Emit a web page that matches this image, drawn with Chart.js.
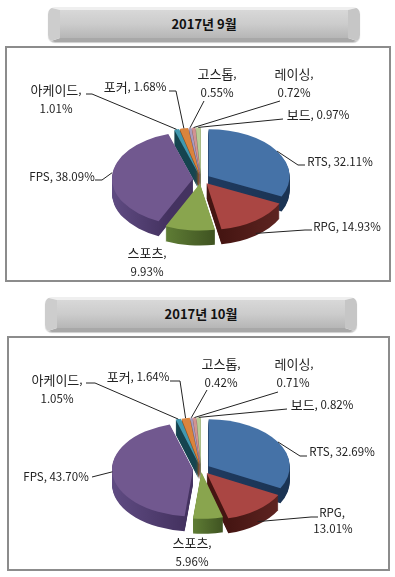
<!DOCTYPE html>
<html>
<head>
<meta charset="utf-8">
<script src="https://cdn.jsdelivr.net/npm/chart.js@4"></script>
<style>
  html, body { margin: 0; padding: 0; background: #fff; }
  body { position: relative; width: 395px; height: 577px; overflow: hidden; font-family: "Noto Sans CJK KR", sans-serif; }
  .head {
    position: absolute; width: 312px; height: 35px; box-sizing: border-box;
    border-style: solid; border-width: 3px 12px 4px 12px;
    border-color: #efefef #c6c6c6 #a8a8a8 #cdcdcd;
    border-radius: 7px; text-align: center; line-height: 28px;
    font-size: 13px; font-weight: bold; color: #111;
    background: linear-gradient(to bottom, #d8d8d8 0%, #cccccc 50%, #b6b6b6 100%);
    box-shadow: 0 1px 1px #ccc;
  }
  .panel { position: absolute; box-sizing: border-box; border: 2px solid #8c8c8c; background: #fff; }
  .panel canvas { position: absolute; left: 0; top: 0; }
</style>
</head>
<body>
<div class="head" style="left:48px;top:7px">2017년 9월</div>
<div class="panel" style="left:5px;top:46px;width:386px;height:236px"><canvas id="sep"></canvas></div>
<div class="head" style="left:45px;top:297px">2017년 10월</div>
<div class="panel" style="left:7px;top:336px;width:383px;height:235px"><canvas id="oct"></canvas></div>
<script>
const categories = ["RTS", "RPG", "스포츠", "FPS", "아케이드", "포커", "고스톱", "레이싱", "보드"];
const sepValues = [32.11, 14.93, 9.93, 38.09, 1.01, 1.68, 0.55, 0.72, 0.97];
const octValues = [32.69, 13.01, 5.96, 43.70, 1.05, 1.64, 0.42, 0.71, 0.82];
const topColors = ["#4572a7", "#aa4643", "#89a54e", "#71588f", "#4198af", "#db843d", "#a99bbd", "#d19392", "#b9cd96"];
const wallLeft = ["#1f3a5f", "#451512", "#5f7d35", "#5f4b82", "#15444f", "#8a4f20", "#6a5f7c", "#855a59", "#76835d"];
const wallRight = ["#1b3454", "#5e2421", "#3f5321", "#443260", "#15444f", "#8a4f20", "#6a5f7c", "#855a59", "#76835d"];
const sepExplode = [9, 9, 8, 8, 8, 8, 8, 8, 8];
const octExplode = [9, 9, 5, 8, 8, 8, 8, 8, 8];

// label text spots and leader start/bend, in canvas pixels; the leader's far end comes from the arc
const sepLabels = [
  { lines: ["RTS, 32.11%"], at: [[333, 114]], from: [298, 117], bend: [291, 117], drop: 0 },
  { lines: ["RPG, 14.93%"], at: [[340, 179]], from: [305, 182], bend: [298, 182], drop: 13 },
  { lines: ["스포츠,", "9.93%"], at: [[140, 205], [140, 224]] },
  { lines: ["FPS, 38.09%"], at: [[55, 129]], from: [88, 132], bend: [95, 132], drop: -3 },
  { lines: ["아케이드,", "1.01%"], at: [[49, 42], [49, 61]], from: [79, 46], bend: [85, 46], drop: 0 },
  { lines: ["포커, 1.68%"], at: [[128, 39]], from: [162, 43], bend: [169, 43], drop: 0 },
  { lines: ["고스톱,", "0.55%"], at: [[210, 26], [210, 45]], from: [197, 53], drop: 0 },
  { lines: ["레이싱,", "0.72%"], at: [[287, 26], [287, 45]], from: [273, 53], drop: 0 },
  { lines: ["보드, 0.97%"], at: [[311, 67]], from: [276, 71], drop: 0 }
];
const octLabels = [
  { lines: ["RTS, 32.69%"], at: [[333, 114]], from: [298, 118], bend: [291, 118], drop: 0 },
  { lines: ["RPG,", "13.01%"], at: [[323, 175], [324, 191]], from: [309, 179], bend: [302, 179], drop: 12 },
  { lines: ["스포츠,", "5.96%"], at: [[183, 205], [183, 224]] },
  { lines: ["FPS, 43.70%"], at: [[47, 139]], from: [83, 139], drop: -2 },
  { lines: ["아케이드,", "1.05%"], at: [[48, 42], [48, 61]], from: [77, 45], bend: [86, 45], drop: 0 },
  { lines: ["포커, 1.64%"], at: [[129, 39]], from: [161, 43], bend: [171, 43], drop: 0 },
  { lines: ["고스톱,", "0.42%"], at: [[212, 26], [212, 45]], from: [198, 52], drop: 0 },
  { lines: ["레이싱,", "0.71%"], at: [[285, 26], [284, 45]], from: [269, 54], drop: 0 },
  { lines: ["보드, 0.82%"], at: [[313, 67]], from: [278, 71], drop: 0 }
];

const squash = 0.58;
const depth = 15;

function midAngle(arc) {
  return (arc.startAngle + arc.endAngle) / 2;
}

// shift every slice outward along its own middle angle, then let the library draw it
function drawExploded(ctx, arc, push) {
  const mid = midAngle(arc);
  ctx.save();
  ctx.translate(Math.cos(mid) * push, Math.sin(mid) * push);
  arc.draw(ctx);
  ctx.restore();
}

function wallPaint(ctx, arc, i) {
  const xs = [arc.startAngle, midAngle(arc), arc.endAngle].map(a => arc.x + Math.cos(a) * arc.outerRadius);
  const g = ctx.createLinearGradient(Math.min(...xs), 0, Math.max(...xs), 0);
  g.addColorStop(0, wallLeft[i]);
  g.addColorStop(1, wallRight[i]);
  return g;
}

// hangul runs a little larger than the latin, as in the picture
function drawLine(ctx, text, x, y) {
  const runs = text.match(/[가-힣]+|[^가-힣]+/g);
  const fontOf = r => (/[가-힣]/.test(r) ? "13px" : "11.5px") + " 'Noto Sans CJK KR'";
  let w = 0;
  runs.forEach(r => { ctx.font = fontOf(r); w += ctx.measureText(r).width; });
  let px = x - w / 2;
  runs.forEach(r => {
    ctx.font = fontOf(r);
    ctx.fillText(r, px, y);
    px += ctx.measureText(r).width;
  });
}

// tilted pie: the library's arcs are redrawn in a flattened space, walls first
const tiltPlugin = {
  id: "tilt",
  beforeDatasetsDraw(chart) {
    const cfg = chart.options.plugins.tilt;
    const ctx = chart.ctx;
    const arcs = chart.getDatasetMeta(0).data;
    ctx.save();
    ctx.translate(cfg.cx, cfg.cy);
    ctx.scale(1, squash);
    ctx.translate(-arcs[0].x, -arcs[0].y);
    for (let d = depth; d > 0; d--) {
      ctx.save();
      ctx.translate(0, d / squash);
      arcs.forEach((arc, i) => {
        const real = arc.options;
        arc.options = Object.create(real);
        arc.options.backgroundColor = wallPaint(ctx, arc, i);
        drawExploded(ctx, arc, cfg.explode[i]);
        arc.options = real;
      });
      ctx.restore();
    }
    arcs.forEach((arc, i) => drawExploded(ctx, arc, cfg.explode[i]));
    ctx.restore();
    return false;
  },
  afterDraw(chart) {
    const cfg = chart.options.plugins.tilt;
    const ctx = chart.ctx;
    const arcs = chart.getDatasetMeta(0).data;
    ctx.save();
    ctx.fillStyle = "#222";
    ctx.textAlign = "left";
    ctx.textBaseline = "middle";
    cfg.labels.forEach((lab, i) => {
      lab.lines.forEach((t, k) => drawLine(ctx, t, lab.at[k][0], lab.at[k][1]));
      if (!lab.from) return;
      const arc = arcs[i];
      const mid = midAngle(arc);
      const r = arc.outerRadius + cfg.explode[i];
      const ex = cfg.cx + Math.cos(mid) * r;
      const ey = cfg.cy + Math.sin(mid) * r * squash + lab.drop;
      ctx.strokeStyle = "#222";
      ctx.lineWidth = 1;
      ctx.beginPath();
      ctx.moveTo(lab.from[0], lab.from[1]);
      if (lab.bend) ctx.lineTo(lab.bend[0], lab.bend[1]);
      ctx.lineTo(ex, ey);
      ctx.stroke();
    });
    ctx.restore();
  }
};

function makePie(id, values, labels, explode, w, h, cx, cy) {
  const canvas = document.getElementById(id);
  canvas.width = w;
  canvas.height = h;
  new Chart(canvas, {
    type: "pie",
    data: {
      labels: categories,
      datasets: [{ data: values, backgroundColor: topColors, borderWidth: 0, radius: 81 }]
    },
    options: {
      responsive: false,
      animation: false,
      plugins: {
        legend: { display: false },
        tooltip: { enabled: false },
        tilt: { cx: cx, cy: cy, labels: labels, explode: explode }
      }
    },
    plugins: [tiltPlugin]
  });
}

makePie("sep", sepValues, sepLabels, sepExplode, 382, 232, 194, 131);
makePie("oct", octValues, octLabels, octExplode, 379, 231, 192, 131);
</script>
</body>
</html>
